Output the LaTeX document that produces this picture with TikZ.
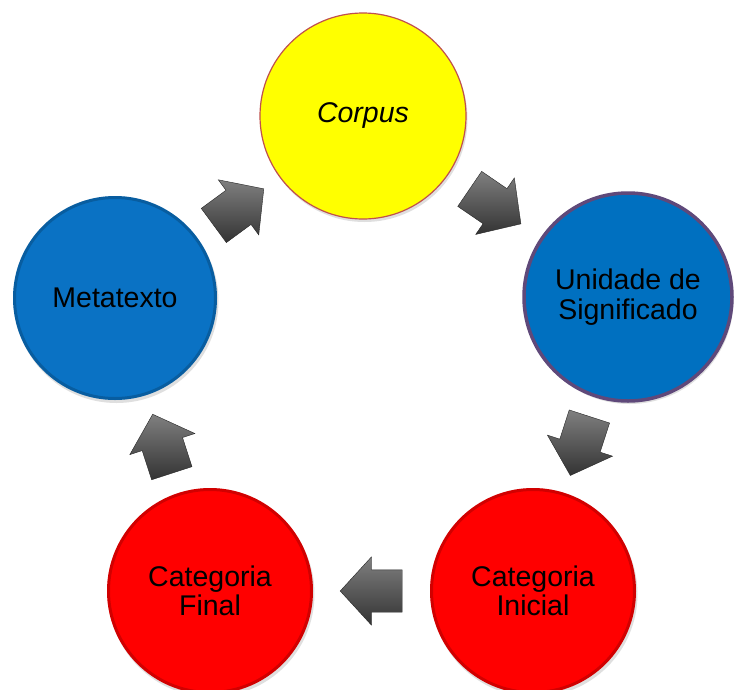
\documentclass[tikz,border=0pt]{standalone}
\usepackage{fontspec}
\setmainfont{Liberation Sans}
\usetikzlibrary{shapes.arrows,shadows,calc}
\definecolor{cblue}{HTML}{0A72C4}
\definecolor{ublue}{HTML}{0070C0}
\definecolor{cred}{HTML}{FF0000}
\definecolor{cyel}{HTML}{FFFF00}
\definecolor{corpusline}{HTML}{C0504D}
\definecolor{unidline}{HTML}{5F497A}
\tikzset{
  circ/.style={circle, inner sep=0pt, align=center, text=black,
    font=\fontsize{28.5}{29.5}\selectfont,
    drop shadow={opacity=0.25, shadow xshift=1.5pt, shadow yshift=-3pt}},
  bevel/.style={path picture={\draw[black, opacity=0.18, line width=6pt]
    (path picture bounding box.center) circle[radius=#1];}},
  blk/.style={single arrow, draw=black!85, line width=0.4pt,
    top color=black!50, bottom color=black!80,
    minimum height=62pt, minimum width=68pt, single arrow head extend=13pt,
    single arrow tip angle=95,
    inner sep=0pt, inner ysep=21pt, sloped, allow upside down,
    anchor=tail, pos=#1}
}
\begin{document}
\begin{tikzpicture}[x=1pt,y=-1pt]
\useasboundingbox[fill=white] (0,0) rectangle (734,689);
\node[circ, fill=cyel, draw=corpusline, line width=1.2pt, minimum size=206pt] (corpus) at (363,116) {\itshape Corpus};
\node[circ, fill=ublue, draw=unidline, line width=3.5pt, minimum size=208pt] (unid) at (628,297) {Unidade de\\Significado};
\node[circ, fill=cred, bevel=103pt, minimum size=206pt] (inicial) at (533,591) {Categoria\\Inicial};
\node[circ, fill=cred, bevel=103pt, minimum size=206pt] (final) at (210,591) {Categoria\\Final};
\node[circ, fill=cblue, bevel=102pt, minimum size=204pt] (meta) at (115,298) {Metatexto};
\path (meta) -- node[blk=0.198] (a1) {} (corpus);
\path (corpus) -- node[blk=0.228] (a2) {} (unid);
\path (unid) -- node[blk=0.196] (a3) {} (inicial);
\path (inicial) -- node[blk=0.235] (a4) {} (final);
\path (final) -- node[blk=0.199] (a5) {} (meta);
\end{tikzpicture}
\end{document}
